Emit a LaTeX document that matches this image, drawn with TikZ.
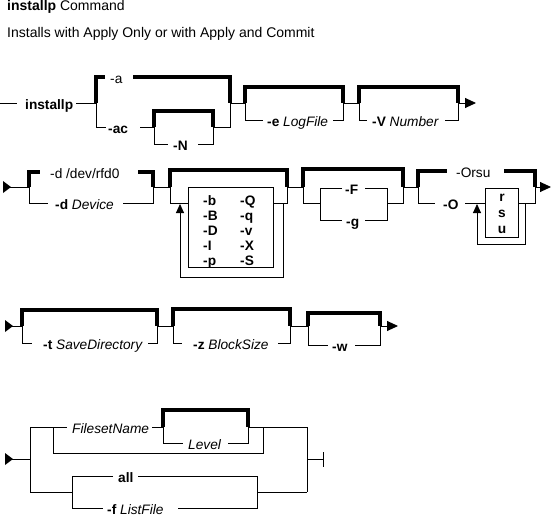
\documentclass[tikz,border=0pt]{standalone}
\usepackage{fontspec}
\setmainfont{Liberation Sans}
\usetikzlibrary{arrows.meta}
\begin{document}
\begin{tikzpicture}[x=1pt,y=-1pt,
  thinln/.style={line width=0.9pt},
  thickln/.style={line width=3.6pt,line join=miter},
  lbl/.style={anchor=base west,inner sep=0pt,font=\fontsize{13.7}{15}\selectfont},
  hlbl/.style={anchor=base west,inner sep=0pt,font=\fontsize{14}{16}\selectfont},
  clbl/.style={anchor=base,inner sep=0pt,font=\fontsize{13.7}{15}\selectfont\bfseries},
  endarrow/.style={line width=0.9pt,-{Triangle[length=11pt,width=10pt]}},
  looparrow/.style={line width=0.9pt,-{Triangle[length=9pt,width=8pt]}},
  starttri/.style={fill=black}]
\useasboundingbox (0,0) rectangle (552,519);
% header
\node[hlbl] (h1) at (7,11) {\textbf{installp} Command};
\node[hlbl] (h2) at (7,38) {Installs with Apply Only or with Apply and Commit};
% ---------- row 1 ----------
\draw[thinln] (0,103)--(17,103);
\node[lbl] (inst) at (25,109.5) {\textbf{installp}};
\draw[thinln] (76,103)--(96,103);
\draw[thickln] (96,103)--(96,77)--(105,77);
\node[lbl] (a) at (110,84) {-a};
\draw[thickln] (133,77)--(230,77)--(230,103);
\draw[thinln] (96,103)--(96,127)--(106,127);
\node[lbl] (ac) at (108,133.5) {\textbf{-ac}};
\draw[thinln] (140,127)--(154,127);
\draw[thickln] (154,127)--(154,111)--(213,111)--(213,127);
\draw[thinln] (154,127)--(154,144)--(168,144);
\node[lbl] (N) at (173,150.5) {\textbf{-N}};
\draw[thinln] (198,144)--(213,144)--(213,127);
\draw[thinln] (213,127)--(230,127)--(230,103);
\draw[thinln] (230,103)--(245,103);
\draw[thickln] (245,103)--(245,87)--(343,87)--(343,103);
\draw[thinln] (245,103)--(245,120)--(263,120);
\node[lbl] (e) at (267,126.5) {\textbf{-e} \textit{LogFile}};
\draw[thinln] (333,120)--(343,120)--(343,103);
\draw[thinln] (343,103)--(359,103);
\draw[thickln] (359,103)--(359,87)--(458,87)--(458,103);
\draw[thinln] (359,103)--(359,120)--(367,120);
\node[lbl] (V) at (372,126.5) {\textbf{-V} \textit{Number}};
\draw[thinln] (445,120)--(458,120)--(458,103);
\draw[endarrow] (458,103)--(476,103);
% ---------- row 2 ----------
\fill[starttri] (3,181)--(11,187)--(3,193)--cycle;
\draw[thinln] (10,187)--(29,187);
\draw[thickln] (29,187)--(29,172)--(40,172);
\node[lbl] (dev) at (50,178.5) {-d /dev/rfd0};
\draw[thickln] (138,172)--(153,172)--(153,187);
\draw[thinln] (29,187)--(29,203)--(48,203);
\node[lbl] (dd) at (55,209.5) {\textbf{-d} \textit{Device}};
\draw[thinln] (123,203)--(153,203)--(153,187);
\draw[thinln] (153,187)--(170,187);
\draw[thickln] (170,187)--(170,170)--(287,170)--(287,187);
\draw[thinln] (170,187)--(170,203)--(188,203);
\draw[thinln] (188,187) rectangle (273,267);
\draw[thinln] (273,203)--(287,203)--(287,187);
\draw[looparrow] (283,203)--(283,277)--(180,277)--(180,204);
\foreach \t/\u [count=\i] in {-b/-Q,-B/-q,-D/-v,-I/-X,-p/-S}{
  \node[lbl] (c1r\i) at (203,{190+15*\i}) {\textbf{\t}};
  \node[lbl] (c2r\i) at (240,{190+15*\i}) {\textbf{\u}};
}
\draw[thinln] (287,187)--(303,187);
\draw[thickln] (303,187)--(303,169)--(403,169)--(403,187);
\draw[thinln] (303,187)--(303,203)--(320,203);
\draw[thinln] (342,188)--(320,188)--(320,220)--(342,220);
\node[lbl] (F) at (345,194.5) {\textbf{-F}};
\node[lbl] (g) at (346,226.5) {\textbf{-g}};
\draw[thinln] (365,188)--(387,188)--(387,220)--(365,220);
\draw[thinln] (387,203)--(403,203)--(403,187);
\draw[thinln] (403,187)--(418,187);
\draw[thickln] (418,187)--(418,171)--(447,171);
\node[lbl] (Orsu) at (456,177.5) {-Orsu};
\draw[thickln] (504,171)--(535,171)--(535,187);
\draw[thinln] (418,187)--(418,203)--(435,203);
\node[lbl] (O) at (443,209.5) {\textbf{-O}};
\draw[thinln] (465,203)--(485,203);
\draw[thinln] (485,188) rectangle (518,237);
\node[clbl] (r) at (502,201) {r};
\node[clbl] (s) at (502,217) {s};
\node[clbl] (u) at (502,233) {u};
\draw[thinln] (518,203)--(535,203)--(535,187);
\draw[looparrow] (525,203)--(525,244)--(477,244)--(477,204);
\draw[endarrow] (535,187)--(551,187);
% ---------- row 3 ----------
\fill[starttri] (5,320)--(13,326)--(5,332)--cycle;
\draw[thinln] (12,326)--(22,326);
\draw[thickln] (22,326)--(22,310)--(157,310)--(157,326);
\draw[thinln] (22,326)--(22,343)--(32,343);
\node[lbl] (t) at (43,349.5) {\textbf{-t} \textit{SaveDirectory}};
\draw[thinln] (148,343)--(157,343)--(157,326);
\draw[thinln] (157,326)--(173,326);
\draw[thickln] (173,326)--(173,309)--(290,309)--(290,326);
\draw[thinln] (173,326)--(173,343)--(182,343);
\node[lbl] (z) at (193,349.5) {\textbf{-z} \textit{BlockSize}};
\draw[thinln] (278,343)--(290,343)--(290,326);
\draw[thinln] (290,326)--(308,326);
\draw[thickln] (308,326)--(308,313)--(380,313)--(380,326);
\draw[thinln] (308,326)--(308,345)--(328,345);
\node[lbl] (w) at (332,351.5) {\textbf{-w}};
\draw[thinln] (355,345)--(380,345)--(380,326);
\draw[endarrow] (380,326)--(398,326);
% ---------- row 4 ----------
\fill[starttri] (5,453)--(13,459)--(5,465)--cycle;
\draw[thinln] (12,459)--(30,459);
\draw[thinln] (30,427)--(30,492);
\draw[thinln] (30,427)--(67,427);
\node[lbl] (fs) at (72,433.5) {\textit{FilesetName}};
\draw[thinln] (152,427)--(163,427);
\draw[thinln] (53,427)--(53,453)--(263,453)--(263,427);
\draw[thickln] (163,427)--(163,410)--(248,410)--(248,427);
\draw[thinln] (163,427)--(163,443)--(183,443);
\node[lbl] (lv) at (188,449.5) {\textit{Level}};
\draw[thinln] (228,443)--(248,443)--(248,427);
\draw[thinln] (248,427)--(307,427)--(307,492);
\draw[thinln] (307,459)--(323,459);
\draw[thinln] (323,452)--(323,467);
\draw[thinln] (30,492)--(72,492);
\draw[thinln] (113,476)--(72,476)--(72,508)--(103,508);
\node[lbl] (all) at (118,482.5) {\textbf{all}};
\node[lbl] (f) at (107,514.5) {\textbf{-f} \textit{ListFile}};
\draw[thinln] (138,476)--(257,476)--(257,508)--(178,508);
\draw[thinln] (257,492)--(307,492);
\end{tikzpicture}
\end{document}
